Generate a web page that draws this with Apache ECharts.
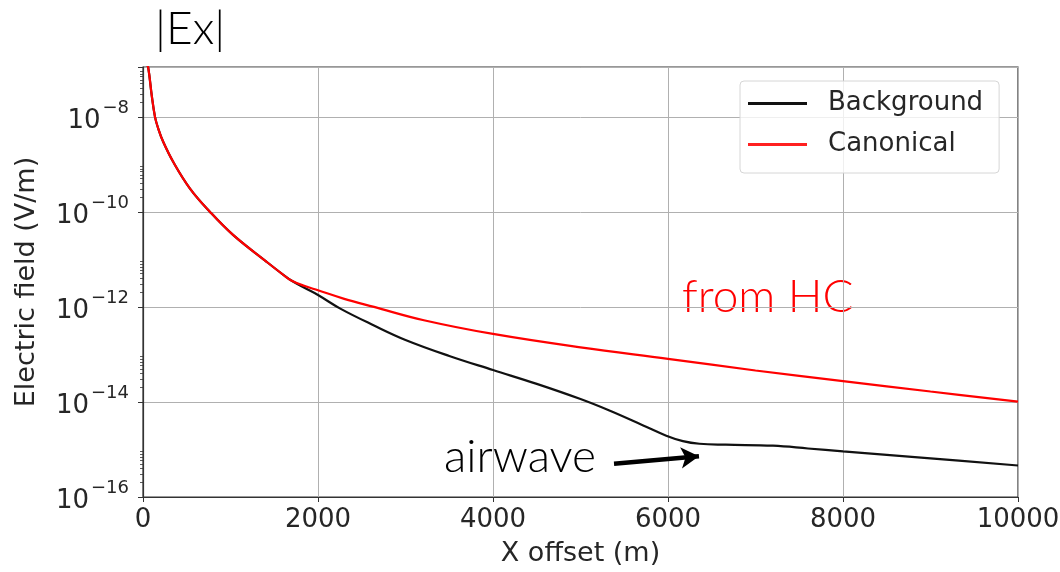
<!DOCTYPE html>
<html><head><meta charset="utf-8">
<script src="https://cdn.jsdelivr.net/npm/echarts@6/dist/echarts.min.js"></script>
<style>html,body{margin:0;padding:0;background:#fff}#c{width:1060px;height:572px}</style>
</head><body><div id="c"></div>
<script>
// x offsets (m) and |Ex| values (V/m)
const xShared = [35, 61, 99, 137, 175, 232, 346, 537, 766, 1032, 1413, 1600, 1700];
const yShared = [1.45e-7, 1.05e-7, 2.9e-8, 1.0e-8, 5.6e-9, 2.95e-9, 1.12e-9, 3.1e-10, 1.0e-10, 3.24e-11, 8.9e-12, 4.8e-12, 3.55e-12];
const xBackground = [1850, 2000, 2260, 2640, 3000, 3500, 4000, 4500, 5000, 5330, 5710, 5980, 6170, 6360, 6660, 7200, 7600, 8000, 9000, 10000];
const yBackground = [2.5e-12, 1.78e-12, 9.1e-13, 4.07e-13, 2.02e-13, 9.3e-14, 4.7e-14, 2.4e-14, 1.15e-14, 6.6e-15, 3.25e-15, 1.95e-15, 1.5e-15, 1.32e-15, 1.26e-15, 1.2e-15, 1.05e-15, 9.1e-16, 6.5e-16, 4.6e-16];
const xCanonical = [1850, 2000, 2300, 2640, 3210, 4000, 5000, 6000, 7000, 8000, 9000, 10000];
const yCanonical = [2.75e-12, 2.24e-12, 1.48e-12, 1.0e-12, 5.25e-13, 2.7e-13, 1.41e-13, 8.1e-14, 4.6e-14, 2.75e-14, 1.66e-14, 1.02e-14];
const xTicks = [0, 2000, 4000, 6000, 8000, 10000];
const yMinorDecades = [-16, -14, -12, -10, -8];
const minorMult = [2, 3, 4, 5, 6, 7, 8, 9];
const arrowTail = [5383, 5.0e-16];
const arrowHead = [6354, 7.2e-16];

const pair = (xs, ys) => xs.map((x, i) => [x, ys[i]]);
const bg = pair(xShared, yShared).concat(pair(xBackground, yBackground));
const can = pair(xShared, yShared).concat(pair(xCanonical, yCanonical));
const minorVals = [];
yMinorDecades.forEach(d => minorMult.forEach(m => { const v = m * Math.pow(10, d); if (v < 1.12e-7) minorVals.push(v); }));

const txt = '#262626';
const font = 'DejaVu Sans';
const chart = echarts.init(document.getElementById('c'), null, {renderer: 'canvas'});
chart.setOption({
  animation: false,
  backgroundColor: '#fff',
  grid: {left: 143, right: 42, top: 67, bottom: 75, show: true, borderColor: '#333', borderWidth: 1.2, backgroundColor: 'transparent', outerBoundsMode: 'none', containLabel: false},
  legend: {
    data: ['Background', 'Canonical'],
    orient: 'vertical', left: 740, top: 81,
    padding: [9, 16, 15, 8], itemGap: 14,
    icon: 'rect', itemWidth: 59, itemHeight: 3,
    backgroundColor: 'rgba(255,255,255,0.8)', borderColor: '#d6d6d6', borderWidth: 1, borderRadius: 4,
    textStyle: {fontFamily: font, fontSize: 26, color: txt, padding: [0, 0, 0, 16], lineHeight: 27}
  },
  xAxis: {
    type: 'value', min: 0, max: 10000, interval: 2000,
    name: 'X offset (m)', nameLocation: 'middle', nameGap: 43,
    nameTextStyle: {fontFamily: font, fontSize: 27, color: txt},
    axisLine: {show: true, lineStyle: {color: '#333', width: 1.2}},
    axisTick: {show: true, length: 5, lineStyle: {color: '#333'}},
    axisLabel: {fontFamily: font, fontSize: 26, color: txt, margin: 10, formatter: v => String(v)},
    splitLine: {show: true, lineStyle: {color: '#b0b0b0', width: 1}}
  },
  yAxis: [{
    type: 'log', logBase: 10, min: 1e-16, max: 1.12e-7, interval: 2,
    name: 'Electric field (V/m)', nameLocation: 'middle', nameGap: 103,
    nameTextStyle: {fontFamily: font, fontSize: 27, color: txt},
    axisLine: {show: true, lineStyle: {color: '#333', width: 1.2}},
    axisTick: {show: true, length: 5, lineStyle: {color: '#333'}},
    axisLabel: {
      margin: 14,
      formatter: v => {
        const e = Math.log10(v);
        const r = Math.round(e);
        if (Math.abs(e - r) > 0.01 || r % 2 !== 0) return '';
        return '{a|10}{b|\u2212' + Math.abs(r) + '}';
      },
      rich: {
        a: {fontFamily: font, fontSize: 26, color: txt, padding: [9, 0, 0, 0]},
        b: {fontFamily: font, fontSize: 18, color: txt, verticalAlign: 'top', padding: [0, 0, 12, 2]}
      }
    },
    splitLine: {show: true, lineStyle: {color: '#b0b0b0', width: 1}}
  }, {
    type: 'log', logBase: 10, min: 1e-16, max: 1.12e-7, position: 'left', offset: 0,
    axisLine: {show: false},
    axisTick: {show: true, length: 3, customValues: minorVals, lineStyle: {color: '#333', width: 0.8}},
    axisLabel: {show: false},
    splitLine: {show: false}
  }],
  series: [{
    name: 'Background', type: 'line', data: bg, showSymbol: false, smooth: 0.4, clip: true,
    lineStyle: {color: '#111', width: 2.2}, itemStyle: {color: '#111'}, z: 3,
    markLine: {
      silent: true, symbol: ['none', 'arrow'], symbolSize: [16, 18],
      lineStyle: {color: '#000', width: 4.5, type: 'solid'},
      label: {show: false},
      data: [[{coord: arrowTail}, {coord: arrowHead}]]
    }
  }, {
    name: 'Canonical', type: 'line', data: can, showSymbol: false, smooth: 0.4, clip: true,
    lineStyle: {color: '#ff0000', width: 2.2}, itemStyle: {color: '#ff2020'}, z: 4
  }],
  graphic: [
    {type: 'text', left: 155, top: 6, style: {text: '|Ex|', fontFamily: 'Lato', fontWeight: 300, fontSize: 46, fill: '#000'}},
    {type: 'text', left: 682, top: 274, style: {text: 'from HC', fontFamily: 'Lato', fontWeight: 300, fontSize: 46, fill: '#ff0000'}},
    {type: 'text', left: 444, top: 434, style: {text: 'airwave', fontFamily: 'Lato', fontWeight: 300, fontSize: 46, fill: '#000'}}
  ]
});
</script></body></html>
